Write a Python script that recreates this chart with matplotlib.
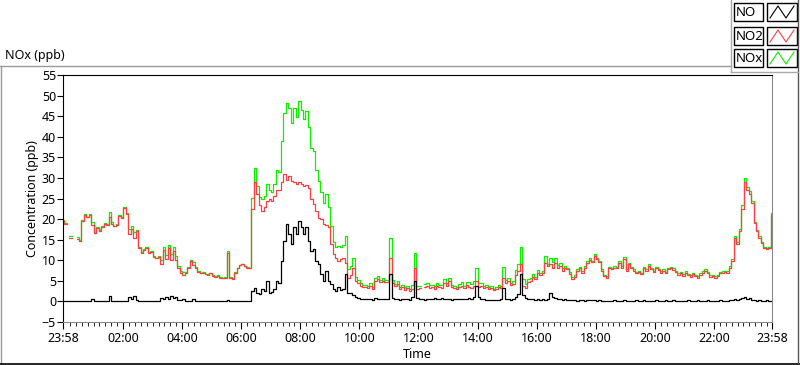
import numpy as np
import matplotlib
matplotlib.use('Agg')
import matplotlib.pyplot as plt
from matplotlib.lines import Line2D
from matplotlib.patches import Rectangle

nan = np.nan
W, H = 800, 365

# 5-minute samples starting at 23:58 (one row = one hour)
no2 = [
  19.6, 18.9, nan, 15.5, nan, nan, 15.2, 14.7, 19.6, 21.0, 20.5, 21.0,
  18.6, 16.5, 17.8, 17.2, 18.0, 18.9, 18.5, 20.5, 18.9, 18.2, 18.6, 20.8,
  20.3, 22.7, 21.3, 16.4, 17.5, 15.5, 17.0, 13.0, 11.8, 12.5, 13.0, 11.8,
  12.0, 10.8, 10.5, 10.8, 9.1, 12.5, 10.2, 13.0, 10.0, 12.2, 10.0, 8.2,
  7.0, 6.5, 7.0, 8.2, 9.9, 8.8, 8.2, 7.2, 6.8, 7.0, 6.6, 6.5,
  6.8, 6.2, 6.0, 6.2, 5.8, 5.6, 5.8, 11.8, 5.8, 5.5, 7.0, 8.0,
  8.8, 9.1, 8.6, 8.2, 8.0, 22.5, 29.0, 26.0, 23.5, 22.0, 23.0, 24.4,
  25.0, 24.5, 25.5, 27.0, 27.0, 29.0, 31.0, 29.5, 30.5, 29.3, 29.0, 28.5,
  29.0, 28.5, 28.0, 28.3, 27.6, 25.0, 23.7, 22.0, 20.3, 20.0, 18.8, 18.5,
  18.0, 14.0, 11.5, 10.5, 9.9, 10.3, 10.6, 9.3, 5.8, 6.5, 8.2, 5.0,
  4.5, 3.8, 3.5, 3.4, 3.2, 3.8, 3.1, 5.0, 5.5, 4.6, 5.0, 4.8,
  4.6, 10.6, 4.5, 3.8, 4.3, 3.0, 3.5, 2.8, 3.3, 2.6, 3.0, 8.2,
  3.0, 3.2, nan, 3.5, 3.8, 3.3, 3.5, 3.0, 3.8, 3.4, 3.2, 4.5,
  3.8, 5.0, 3.5, 3.3, 3.0, 3.6, 3.8, 3.2, 4.0, 3.6, 3.3, 3.8,
  5.0, 3.5, 3.8, 3.2, 3.6, 3.0, 3.3, 2.8, 3.0, 3.4, 3.2, 5.8,
  4.5, 5.0, 4.0, 4.2, 6.5, 7.5, 9.0, 3.8, 3.2, 4.8, 5.0, 6.0,
  5.5, 7.0, 6.5, 6.8, 9.4, 8.5, 9.0, 8.2, 9.4, 8.0, 8.6, 7.5,
  8.0, 7.8, 6.7, 5.5, 6.0, 7.5, 8.0, 7.0, 8.2, 9.4, 10.0, 9.5,
  11.0, 10.3, 9.5, 7.5, 6.2, 5.8, 8.0, 7.8, 8.2, 8.0, 9.4, 8.2,
  10.3, 7.5, 9.0, 8.0, 7.5, 6.8, 7.2, 6.7, 8.0, 7.5, 8.6, 7.8,
  7.2, 8.0, 7.6, 7.0, 7.5, 6.8, 7.8, 8.0, 7.6, 7.2, 6.5, 6.8,
  6.2, 7.0, 6.4, 6.0, 6.7, 6.2, 5.8, 6.5, 7.0, 7.5, 6.8, 6.0,
  6.2, 5.8, 6.2, 6.8, 7.0, 7.2, 7.0, 8.2, 9.9, 15.5, 14.0, 17.0,
  22.5, 29.0, 27.0, 26.0, 24.0, 19.0, 17.0, 15.5, 14.2, 13.0, 12.8, 13.0,
  21.0]

no = [
  0, 0, 0, 0, 0, 0, 0, 0, 0, 0, 0, 0,
  0.7, 0, 0, 0, 0, 0, 0, 1.2, 0.2, 0, 0, 0,
  0, 0, 0, 1.0, 0.6, 1.2, 0.3, 0, 0, 0, 0, 0,
  0, 0, 0, 0.2, 0.8, 0.5, 1.0, 0.6, 1.2, 0.8, 1.0, 0.4,
  0.3, 0.6, 0, 0, 0, 0.6, 0, 0, 0, 0, 0, 0,
  0, 0, 0, 0, 0, 0, 0, 0.4, 0, 0, 0, 0,
  0, 0, 0, 0, 0, 2.6, 3.3, 2.0, 1.9, 3.0, 2.5, 5.0,
  2.0, 2.2, 3.0, 5.0, 4.5, 9.9, 14.7, 18.8, 16.4, 14.0, 18.0, 16.4,
  19.6, 18.0, 16.4, 18.0, 14.7, 12.3, 12.8, 9.9, 9.0, 6.7, 5.0, 7.5,
  5.0, 4.3, 3.0, 2.6, 3.5, 2.8, 3.0, 6.7, 2.0, 2.0, 1.5, 1.0,
  0.8, 0.6, 0.5, 0.7, 0.5, 0.6, 0.4, 0.8, 0.6, 0.5, 0.7, 0.5,
  0.6, 6.7, 0.8, 0.5, 0.6, 0.4, 0.5, 0.6, 0.5, 0.4, 1.0, 5.0,
  0.8, 0.6, 0.5, 0.4, 0.6, 0.5, 0.6, 0.8, 0.5, 0.6, 0.8, 0.6,
  0.5, 0.6, 0.4, 0.5, 0.6, 0.5, 0.7, 0.5, 0.6, 0.8, 0.7, 1.0,
  3.8, 1.0, 0.6, 0.5, 0.3, 0.3, 0.4, 0.3, 0.3, 0.4, 0.5, 3.3,
  0.6, 0.5, 0.4, 0.6, 1.0, 1.8, 6.7, 1.5, 0.8, 0.5, 0.6, 0.5,
  0.4, 0.5, 0.4, 0.5, 0.4, 0.5, 2.0, 1.0, 0.8, 0.6, 0.6, 0.4,
  0.5, 0.3, 0.4, 0.3, 0.3, 0.2, 0.3, 0.3, 0.2, 0.3, 0.3, 0.3,
  0.3, 0.2, 0.3, 0.2, 0.2, 0.2, 0.2, 0.2, 0.3, 0.2, 0.2, 0.2,
  0.3, 0.2, 0.2, 0.2, 0.2, 0.3, 0.2, 0.2, 0.3, 0.2, 0.2, 0.2,
  0.2, 0.3, 0.2, 0.2, 0.2, 0.3, 0.2, 0.2, 0.3, 0.2, 0.2, 0.2,
  0.2, 0.2, 0.3, 0.2, 0.2, 0.2, 0.3, 0.2, 0.2, 0.2, 0.3, 0.2,
  0.2, 0.2, 0.2, 0.3, 0.2, 0.2, 0.2, 0.3, 0.3, 0.5, 0.4, 0.6,
  0.8, 1.0, 0.6, 0.8, 0.4, 0.3, 0.2, 0.3, 0.2, 0.2, 0.3, 0.2,
  0.2]

nox = [
  19.8, 19.0, nan, 15.8, nan, nan, 15.6, 15.0, 19.8, 21.2, 20.6, 21.2,
  19.4, 16.7, 18.0, 17.3, 18.2, 19.0, 18.7, 21.8, 19.2, 18.4, 18.8, 21.0,
  20.5, 22.9, 21.5, 17.6, 18.3, 16.9, 17.4, 13.2, 12.0, 12.7, 13.1, 12.0,
  12.2, 11.0, 10.6, 11.1, 10.0, 13.2, 11.3, 13.8, 11.4, 13.1, 11.1, 8.7,
  7.4, 7.2, 7.1, 8.3, 10.0, 9.5, 8.3, 7.3, 6.9, 7.1, 6.7, 6.6,
  6.9, 6.3, 6.1, 6.3, 5.9, 5.7, 5.9, 12.3, 5.9, 5.6, 7.1, 8.1,
  8.9, 9.2, 8.7, 8.3, 8.1, 25.1, 32.3, 28.0, 25.4, 25.0, 25.5, 28.5,
  27.0, 26.7, 28.5, 32.0, 31.5, 38.9, 45.7, 48.3, 46.9, 43.3, 47.0, 44.9,
  48.6, 46.5, 44.4, 46.3, 42.3, 37.3, 36.5, 31.9, 29.3, 26.7, 23.8, 26.0,
  23.0, 18.3, 14.5, 13.1, 13.4, 13.1, 13.6, 16.0, 7.8, 8.5, 10.6, 6.0,
  5.3, 4.4, 4.0, 4.1, 3.7, 4.4, 3.5, 5.8, 6.1, 5.1, 5.7, 5.3,
  5.2, 15.5, 5.3, 4.3, 4.9, 3.4, 4.0, 3.4, 3.8, 3.0, 4.0, 11.8,
  3.8, 3.8, nan, 4.2, 4.4, 4.0, 4.1, 3.8, 4.5, 4.0, 4.0, 5.5,
  4.5, 5.8, 4.0, 3.8, 3.6, 4.2, 4.8, 3.8, 4.8, 4.6, 4.2, 5.0,
  8.0, 4.5, 4.4, 3.7, 4.0, 3.4, 3.8, 3.1, 3.4, 3.9, 3.8, 8.4,
  5.2, 5.6, 4.5, 4.9, 7.6, 9.0, 13.2, 5.5, 4.2, 5.4, 5.7, 6.6,
  6.0, 7.6, 7.0, 7.4, 11.0, 9.2, 10.6, 9.5, 10.6, 8.8, 9.3, 8.0,
  8.6, 8.2, 7.2, 5.9, 6.4, 7.8, 8.4, 7.4, 8.5, 9.8, 10.5, 9.9,
  11.5, 10.6, 9.9, 7.8, 6.5, 6.1, 8.3, 8.1, 8.6, 8.3, 9.7, 8.5,
  10.8, 7.8, 9.3, 8.3, 7.8, 7.1, 7.5, 7.0, 8.4, 7.8, 9.0, 8.1,
  7.5, 8.3, 7.9, 7.3, 7.8, 7.2, 8.2, 8.3, 8.0, 7.5, 6.8, 7.1,
  6.6, 7.3, 6.7, 6.4, 7.0, 6.5, 6.1, 6.8, 7.3, 7.8, 7.1, 6.3,
  6.5, 6.1, 6.5, 7.1, 7.3, 7.5, 7.3, 8.5, 10.2, 16.0, 14.5, 17.5,
  23.5, 30.0, 27.8, 26.8, 24.5, 19.3, 17.4, 15.8, 14.5, 13.3, 13.0, 13.3,
  21.5]

tick_labels = ['23:58', '02:00', '04:00', '06:00', '08:00', '10:00', '12:00',
               '14:00', '16:00', '18:00', '20:00', '22:00', '23:58']
series_names = ['NO', 'NO2', 'NOx']
colors = ['#000000', '#ff4040', '#11ee00']

t = np.arange(len(no2)) * 5 / 60.0  # hours since 23:58

plt.rcParams['font.family'] = ['Noto Sans', 'DejaVu Sans']
fig = plt.figure(figsize=(W / 100, H / 100), dpi=100)
fig.patch.set_facecolor('white')

def fx(x):
    return x / W

def fy(y):
    return 1 - y / H

ax = fig.add_axes([fx(63), fy(322), fx(772) - fx(63), fy(75) - fy(322)])
ax.plot(t, nox, color=colors[2], lw=0.9, drawstyle='steps-mid')
ax.plot(t, no2, color=colors[1], lw=0.9, drawstyle='steps-mid')
ax.plot(t, no, color=colors[0], lw=0.9, drawstyle='steps-mid')

ax.set_xlim(0, 24)
ax.set_ylim(-5, 55)
ax.set_yticks(np.arange(-5, 56, 5))
ax.tick_params(axis='y', direction='out', length=4, labelsize=9, pad=1)
major = [0] + [h + 2 / 60 for h in range(2, 23, 2)] + [24]
ax.set_xticks(major)
ax.set_xticklabels(tick_labels)
ax.set_xticks([m + 2 / 60 for m in np.arange(0, 24, 0.2)][1:], minor=True)
ax.tick_params(axis='x', which='major', direction='out', length=5, labelsize=9, pad=2)
ax.tick_params(axis='x', which='minor', direction='out', length=3)
for s in ['top', 'left']:
    ax.spines[s].set_color('black')
for s in ['right', 'bottom']:
    ax.spines[s].set_color('#888888')
ax.set_ylabel('Concentration (ppb)', fontsize=9, labelpad=2)
ax.set_xlabel('Time', fontsize=9, labelpad=2)

# frame around the graph
fig.add_artist(Line2D([fx(0), fx(731)], [fy(66), fy(66)], color='#999999', lw=1))
fig.add_artist(Line2D([fx(0.5), fx(0.5)], [fy(66), fy(363)], color='#999999', lw=1))
fig.add_artist(Line2D([fx(0), fx(800)], [fy(363.5), fy(363.5)], color='black', lw=1.2))
fig.add_artist(Line2D([fx(798), fx(798)], [fy(0), fy(363)], color='#555555', lw=1))
fig.text(fx(5), fy(56), 'NOx (ppb)', fontsize=9, va='center', ha='left')

# legend panel
fig.add_artist(Line2D([fx(731), fx(731)], [fy(0), fy(72)], color='#aaaaaa', lw=1))
fig.add_artist(Line2D([fx(731), fx(798)], [fy(72), fy(72)], color='#aaaaaa', lw=1))
rows = [3, 27, 49]
for name, c, y0 in zip(series_names, colors, rows):
    fig.add_artist(Rectangle((fx(734), fy(y0 + 18)), fx(29), fy(0) - fy(18),
                             facecolor='white', edgecolor='black', lw=1))
    fig.text(fx(735.5), fy(y0 + 9), name, fontsize=9.5, va='center', ha='left')
    fig.add_artist(Rectangle((fx(767), fy(y0 + 18)), fx(30), fy(0) - fy(18),
                             facecolor='white', edgecolor='black', lw=1))
    zx = [fx(770), fx(778), fx(786), fx(794)]
    zy = [fy(y0 + 15), fy(y0 + 3), fy(y0 + 15), fy(y0 + 3)]
    fig.add_artist(Line2D(zx, zy, color=c, lw=0.8))

fig.savefig('out.png', dpi=100)
